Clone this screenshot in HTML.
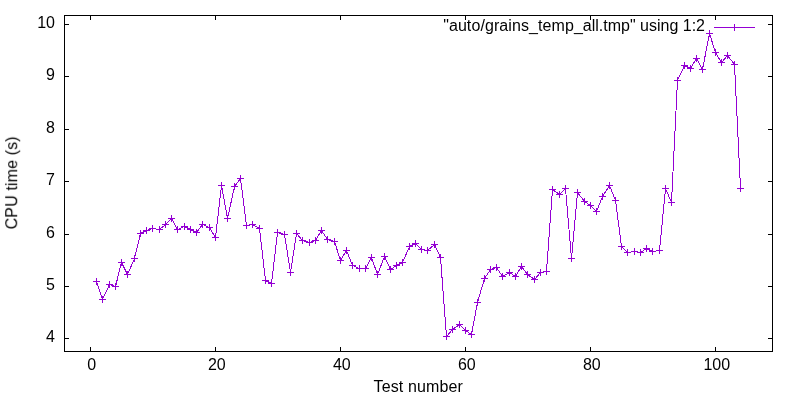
<!DOCTYPE html>
<html><head><meta charset="utf-8"><title>plot</title>
<style>
html,body{margin:0;padding:0;background:#fff;}
body{width:800px;height:400px;overflow:hidden;}
svg{display:block;}
text{font-family:"Liberation Sans",sans-serif;font-size:16px;fill:#000;}
</style></head><body>
<svg width="800" height="400" viewBox="0 0 800 400">
<rect width="800" height="400" fill="#fff"/>
<path d="M64.5 24.5h4.5M772.5 24.5h-4.5M64.5 76.5h4.5M772.5 76.5h-4.5M64.5 129.5h4.5M772.5 129.5h-4.5M64.5 181.5h4.5M772.5 181.5h-4.5M64.5 234.5h4.5M772.5 234.5h-4.5M64.5 286.5h4.5M772.5 286.5h-4.5M64.5 338.5h4.5M772.5 338.5h-4.5M90.5 351.5v-4.5M90.5 15.5v4.5M215.5 351.5v-4.5M215.5 15.5v4.5M340.5 351.5v-4.5M340.5 15.5v4.5M465.5 351.5v-4.5M465.5 15.5v4.5M590.5 351.5v-4.5M590.5 15.5v4.5M715.5 351.5v-4.5M715.5 15.5v4.5" stroke="#000" stroke-width="1" fill="none"/>
<rect x="64.5" y="15.5" width="708" height="336" fill="none" stroke="#000" stroke-width="1"/>
<g style="opacity:0.999"><text x="55" y="27.8" text-anchor="end">10</text><text x="55" y="79.8" text-anchor="end">9</text><text x="55" y="132.8" text-anchor="end">8</text><text x="55" y="184.8" text-anchor="end">7</text><text x="55" y="237.8" text-anchor="end">6</text><text x="55" y="289.8" text-anchor="end">5</text><text x="55" y="341.8" text-anchor="end">4</text>
<text x="91.8" y="369.6" text-anchor="middle">0</text><text x="216.8" y="369.6" text-anchor="middle">20</text><text x="341.8" y="369.6" text-anchor="middle">40</text><text x="466.8" y="369.6" text-anchor="middle">60</text><text x="591.8" y="369.6" text-anchor="middle">80</text><text x="716.8" y="369.6" text-anchor="middle">100</text>
<text x="418.3" y="392" text-anchor="middle" style="letter-spacing:0.14px">Test number</text>
<text transform="translate(17.2,182.8) rotate(-90)" text-anchor="middle" style="letter-spacing:0.13px">CPU time (s)</text>
<text x="705" y="30.6" text-anchor="end"><tspan style="letter-spacing:0.085px">"auto/grains_temp</tspan>_all.tmp" using 1:2</text></g>
<path d="M714 27.5H755M734.5 24v7" stroke="#9400d3" stroke-width="1" fill="none"/>
<polyline points="96.5,281.5 102.5,299.5 109.5,284.5 115.5,286.5 121.5,262.5 127.5,274.5 134.5,258.5 140.5,233.5 146.5,230.5 152.5,228.5 159.5,229.5 165.5,224.5 171.5,218.5 177.5,229.5 184.5,226.5 190.5,229.5 196.5,232.5 202.5,224.5 209.5,227.5 215.5,237.5 221.5,185.5 227.5,218.5 234.5,186.5 240.5,178.5 246.5,225.5 252.5,224.5 259.5,228.5 265.5,280.5 271.5,283.5 277.5,232.5 284.5,234.5 290.5,272.5 296.5,233.5 302.5,240.5 309.5,242.5 315.5,240.5 321.5,230.5 327.5,239.5 334.5,241.5 340.5,260.5 346.5,250.5 352.5,265.5 359.5,268.5 365.5,268.5 371.5,257.5 377.5,274.5 384.5,256.5 390.5,269.5 396.5,265.5 402.5,262.5 409.5,246.5 415.5,243.5 421.5,249.5 427.5,250.5 434.5,244.5 440.5,257.5 446.5,336.5 452.5,329.5 459.5,324.5 465.5,330.5 471.5,334.5 477.5,302.5 484.5,278.5 490.5,269.5 496.5,267.5 502.5,276.5 509.5,272.5 515.5,276.5 521.5,266.5 527.5,274.5 534.5,279.5 540.5,272.5 546.5,271.5 552.5,189.5 559.5,194.5 565.5,188.5 571.5,258.5 577.5,192.5 584.5,201.5 590.5,205.5 596.5,211.5 602.5,196.5 609.5,185.5 615.5,200.5 621.5,246.5 627.5,252.5 634.5,251.5 640.5,252.5 646.5,248.5 652.5,251.5 659.5,250.5 665.5,188.5 671.5,202.5 677.5,80.5 684.5,65.5 690.5,68.5 696.5,58.5 702.5,69.5 709.5,33.5 715.5,52.5 721.5,62.5 727.5,55.5 734.5,64.5 740.5,188.5" fill="none" stroke="#9400d3" stroke-width="1" stroke-linejoin="round" shape-rendering="crispEdges"/>
<path d="M93 281.5h7M96.5 278v7M99 299.5h7M102.5 296v7M106 284.5h7M109.5 281v7M112 286.5h7M115.5 283v7M118 262.5h7M121.5 259v7M124 274.5h7M127.5 271v7M131 258.5h7M134.5 255v7M137 233.5h7M140.5 230v7M143 230.5h7M146.5 227v7M149 228.5h7M152.5 225v7M156 229.5h7M159.5 226v7M162 224.5h7M165.5 221v7M168 218.5h7M171.5 215v7M174 229.5h7M177.5 226v7M181 226.5h7M184.5 223v7M187 229.5h7M190.5 226v7M193 232.5h7M196.5 229v7M199 224.5h7M202.5 221v7M206 227.5h7M209.5 224v7M212 237.5h7M215.5 234v7M218 185.5h7M221.5 182v7M224 218.5h7M227.5 215v7M231 186.5h7M234.5 183v7M237 178.5h7M240.5 175v7M243 225.5h7M246.5 222v7M249 224.5h7M252.5 221v7M256 228.5h7M259.5 225v7M262 280.5h7M265.5 277v7M268 283.5h7M271.5 280v7M274 232.5h7M277.5 229v7M281 234.5h7M284.5 231v7M287 272.5h7M290.5 269v7M293 233.5h7M296.5 230v7M299 240.5h7M302.5 237v7M306 242.5h7M309.5 239v7M312 240.5h7M315.5 237v7M318 230.5h7M321.5 227v7M324 239.5h7M327.5 236v7M331 241.5h7M334.5 238v7M337 260.5h7M340.5 257v7M343 250.5h7M346.5 247v7M349 265.5h7M352.5 262v7M356 268.5h7M359.5 265v7M362 268.5h7M365.5 265v7M368 257.5h7M371.5 254v7M374 274.5h7M377.5 271v7M381 256.5h7M384.5 253v7M387 269.5h7M390.5 266v7M393 265.5h7M396.5 262v7M399 262.5h7M402.5 259v7M406 246.5h7M409.5 243v7M412 243.5h7M415.5 240v7M418 249.5h7M421.5 246v7M424 250.5h7M427.5 247v7M431 244.5h7M434.5 241v7M437 257.5h7M440.5 254v7M443 336.5h7M446.5 333v7M449 329.5h7M452.5 326v7M456 324.5h7M459.5 321v7M462 330.5h7M465.5 327v7M468 334.5h7M471.5 331v7M474 302.5h7M477.5 299v7M481 278.5h7M484.5 275v7M487 269.5h7M490.5 266v7M493 267.5h7M496.5 264v7M499 276.5h7M502.5 273v7M506 272.5h7M509.5 269v7M512 276.5h7M515.5 273v7M518 266.5h7M521.5 263v7M524 274.5h7M527.5 271v7M531 279.5h7M534.5 276v7M537 272.5h7M540.5 269v7M543 271.5h7M546.5 268v7M549 189.5h7M552.5 186v7M556 194.5h7M559.5 191v7M562 188.5h7M565.5 185v7M568 258.5h7M571.5 255v7M574 192.5h7M577.5 189v7M581 201.5h7M584.5 198v7M587 205.5h7M590.5 202v7M593 211.5h7M596.5 208v7M599 196.5h7M602.5 193v7M606 185.5h7M609.5 182v7M612 200.5h7M615.5 197v7M618 246.5h7M621.5 243v7M624 252.5h7M627.5 249v7M631 251.5h7M634.5 248v7M637 252.5h7M640.5 249v7M643 248.5h7M646.5 245v7M649 251.5h7M652.5 248v7M656 250.5h7M659.5 247v7M662 188.5h7M665.5 185v7M668 202.5h7M671.5 199v7M674 80.5h7M677.5 77v7M681 65.5h7M684.5 62v7M687 68.5h7M690.5 65v7M693 58.5h7M696.5 55v7M699 69.5h7M702.5 66v7M706 33.5h7M709.5 30v7M712 52.5h7M715.5 49v7M718 62.5h7M721.5 59v7M724 55.5h7M727.5 52v7M731 64.5h7M734.5 61v7M737 188.5h7M740.5 185v7" stroke="#9400d3" stroke-width="1" fill="none"/>
</svg>
</body></html>
